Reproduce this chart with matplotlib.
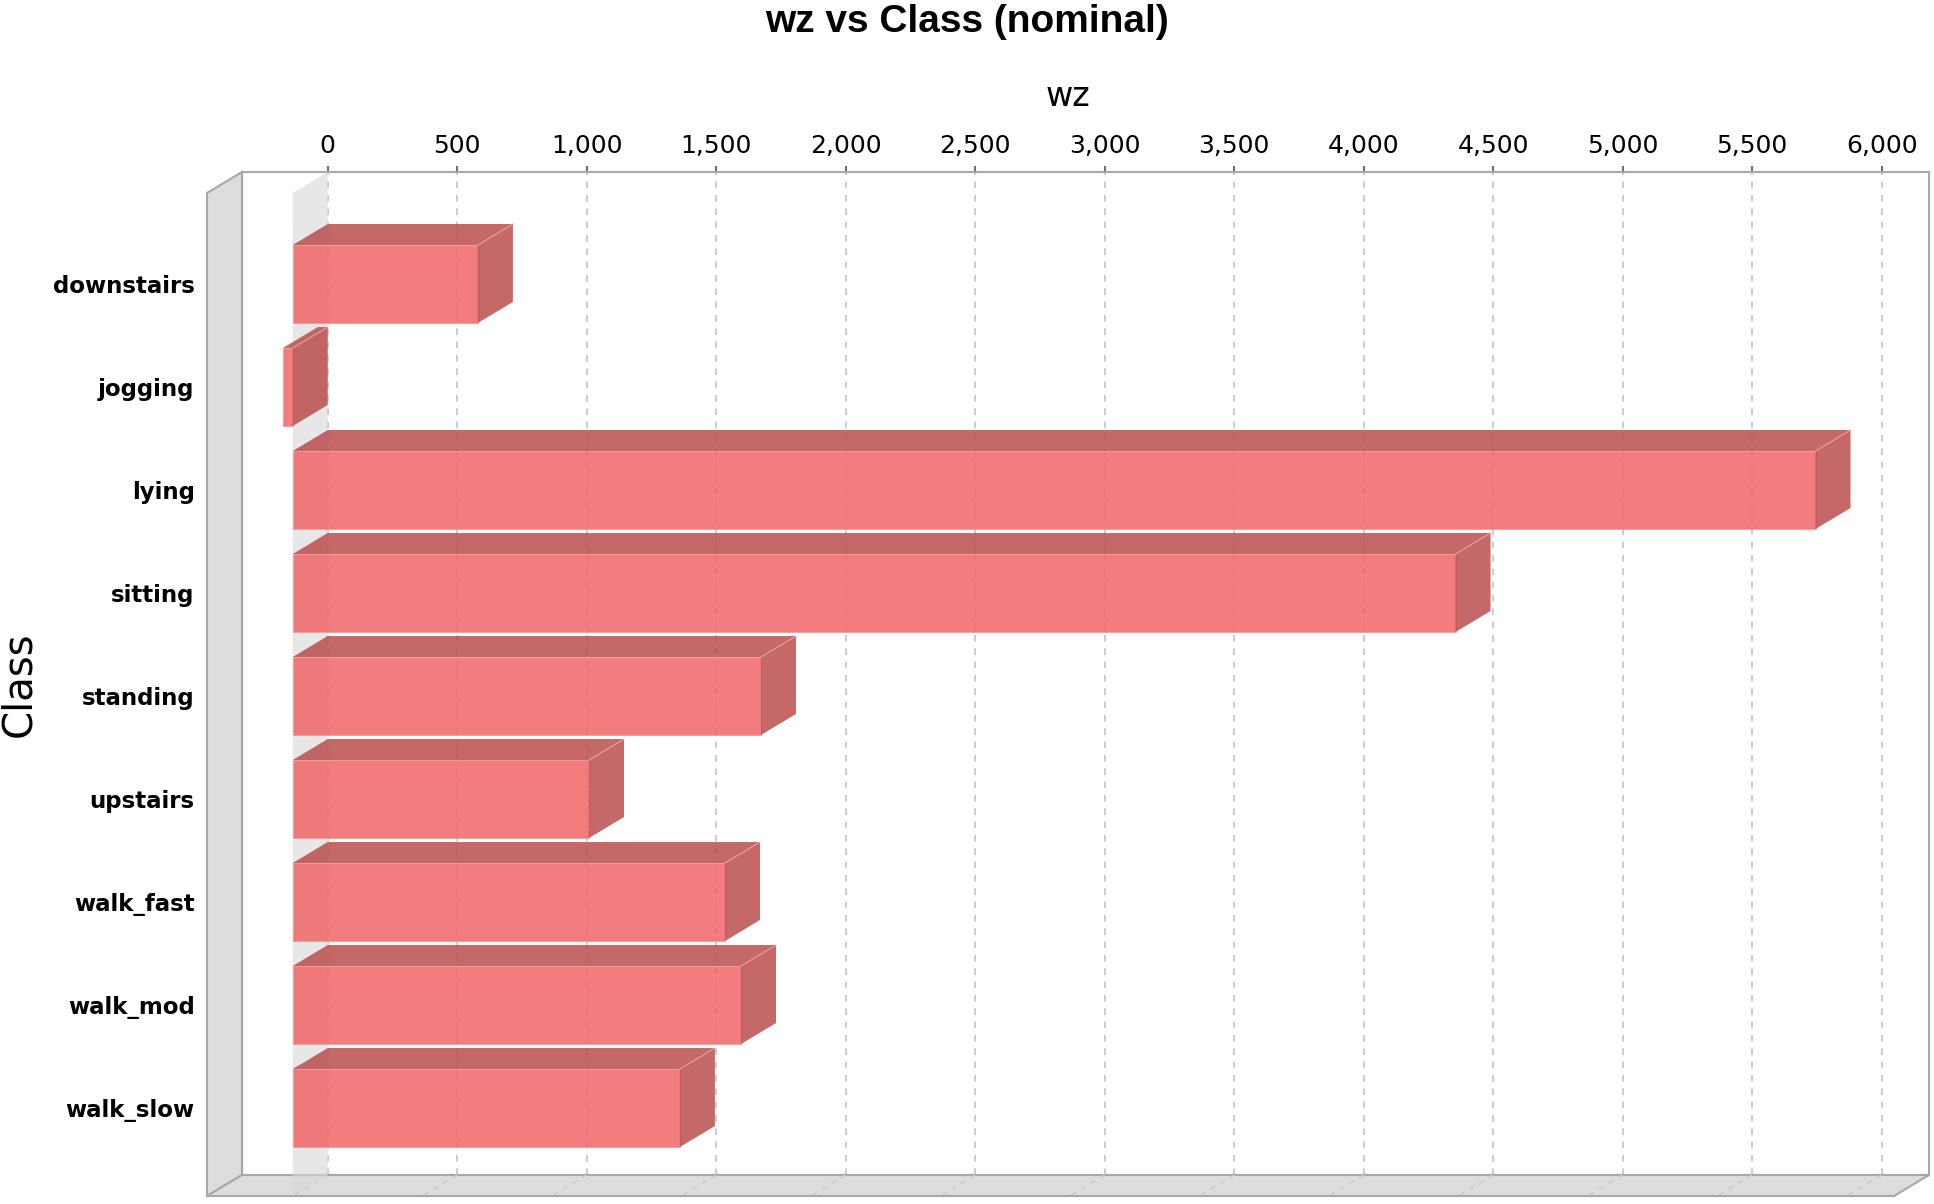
import matplotlib
matplotlib.use("Agg")
import matplotlib.pyplot as plt
from matplotlib.patches import Polygon, Rectangle

# ---- data ----
categories = ['downstairs', 'jogging', 'lying', 'sitting', 'standing',
              'upstairs', 'walk_fast', 'walk_mod', 'walk_slow']
wz_values = [715, -38, 5880, 4490, 1808, 1144, 1669, 1731, 1495]
x_ticks = [0, 500, 1000, 1500, 2000, 2500, 3000, 3500, 4000, 4500, 5000, 5500, 6000]
x_tick_labels = ['{:,}'.format(t) for t in x_ticks]

title = 'wz vs Class (nominal)'
x_label = 'wz'
y_label = 'Class'

# ---- layout (pixels) ----
W, H = 1934, 1204
fig = plt.figure(figsize=(W / 100, H / 100), dpi=100)
fig.patch.set_facecolor('white')

DEPTH_X, DEPTH_Y = 35, 21          # 3D offset in pixels
FL, FR, FT, FB = 207, 1894, 193, 1196   # front plane
BL, BR, BT, BB = FL + DEPTH_X, FR + DEPTH_X, FT - DEPTH_Y, FB - DEPTH_Y


def box(l, r, t, b):
    return [l / W, 1 - b / H, (r - l) / W, (b - t) / H]


XLIM = (-331, 6183)
YLIM = (8.854, -0.8835)
px_per_x = (FR - FL) / (XLIM[1] - XLIM[0])
px_per_y = (FB - FT) / (YLIM[0] - YLIM[1])
dx = DEPTH_X / px_per_x
dy = DEPTH_Y / px_per_y
bar_h = 0.757

edge_col = '#A8A8A8'
wall_col = '#DDDDDD'
grid_col = '#C4C4C4'
front_col = '#F06567'
dark_col = '#BA4D4D'
bar_alpha = 0.85

# ---- back plane axes ----
axb = fig.add_axes(box(BL, BR, BT, BB))
axb.set_facecolor('white')
axb.set_xlim(XLIM)
axb.set_ylim(YLIM)
axb.set_yticks([])
axb.set_xticks(x_ticks)
axb.set_xticklabels(x_tick_labels)
axb.xaxis.tick_top()
axb.xaxis.set_label_position('top')
axb.tick_params(axis='x', length=4, width=1.5, color='#707070', pad=6,
                labelsize=18, labelcolor='black')
axb.grid(axis='x', color=grid_col, linestyle=(0, (4, 4)), linewidth=1.2)
for s in axb.spines.values():
    s.set_color(edge_col)
    s.set_linewidth(1.5)
axb.set_xlabel(x_label, fontsize=24)
axb.xaxis.set_label_coords((1067.5 - BL) / (BR - BL), (BB - 97) / (BB - BT))
axb.xaxis.label.set_va('center')

# ---- front plane axes ----
ax = fig.add_axes(box(FL, FR, FT, FB))
ax.set_zorder(2)
ax.patch.set_alpha(0)
ax.set_xlim(XLIM)
ax.set_ylim(YLIM)
for s in ax.spines.values():
    s.set_visible(False)
ax.set_xticks([])
ax.set_yticks(range(len(categories)))
ax.set_yticklabels(categories, fontsize=16.5, fontweight='bold')
ax.tick_params(axis='y', length=0, pad=9)
ax.set_ylabel(y_label, fontsize=29)
ax.yaxis.set_label_coords((19 - FL) / (FR - FL), (FB - 684) / (FB - FT))
ax.yaxis.label.set_va('center')

x0, x1 = XLIM
yt, yb = YLIM[1], YLIM[0]

# left wall
ax.add_patch(Polygon([(x0, yt), (x0 + dx, yt - dy), (x0 + dx, yb - dy), (x0, yb)],
                     closed=True, facecolor=wall_col, edgecolor=edge_col,
                     linewidth=1.5, clip_on=False, zorder=1))
# floor
ax.add_patch(Polygon([(x0, yb), (x1, yb), (x1 + dx, yb - dy), (x0 + dx, yb - dy)],
                     closed=True, facecolor=wall_col, edgecolor=edge_col,
                     linewidth=1.5, clip_on=False, zorder=1))
# grid on floor
for t in x_ticks:
    ax.plot([t + dx, t], [yb - dy, yb], color='#C8C8C8', linestyle=(0, (4, 4)),
            linewidth=1.0, clip_on=False, zorder=2)

# zero plane
ax.add_patch(Polygon([(0, yt), (dx, yt - dy), (dx, yb - dy), (0, yb)],
                     closed=True, facecolor='#D8D8D8', edgecolor='none',
                     alpha=0.6, clip_on=False, zorder=2))

# bars
for i, v in enumerate(wz_values):
    lo, hi = min(0, v), max(0, v)
    top, bot = i - bar_h / 2, i + bar_h / 2
    ax.add_patch(Rectangle((lo, top), hi - lo, bar_h, facecolor=front_col,
                           edgecolor='#F59A9A', linewidth=0.8, alpha=bar_alpha,
                           clip_on=False, zorder=3))
    ax.add_patch(Polygon([(lo, top), (hi, top), (hi + dx, top - dy), (lo + dx, top - dy)],
                         closed=True, facecolor=dark_col, edgecolor='none',
                         alpha=bar_alpha, clip_on=False, zorder=3))
    ax.add_patch(Polygon([(hi, top), (hi + dx, top - dy), (hi + dx, bot - dy), (hi, bot)],
                         closed=True, facecolor=dark_col, edgecolor='none',
                         alpha=bar_alpha, clip_on=False, zorder=3))
    ax.plot([hi, hi + dx], [top, top - dy], color='#E8A0A0', linewidth=0.8,
            clip_on=False, zorder=4)

fig.text(0.5, 1 - 22 / H, title, ha='center', va='center', fontsize=28,
         fontweight='bold', family=['Liberation Sans', 'DejaVu Sans'])

fig.savefig('out.png', dpi=100, facecolor='white')
